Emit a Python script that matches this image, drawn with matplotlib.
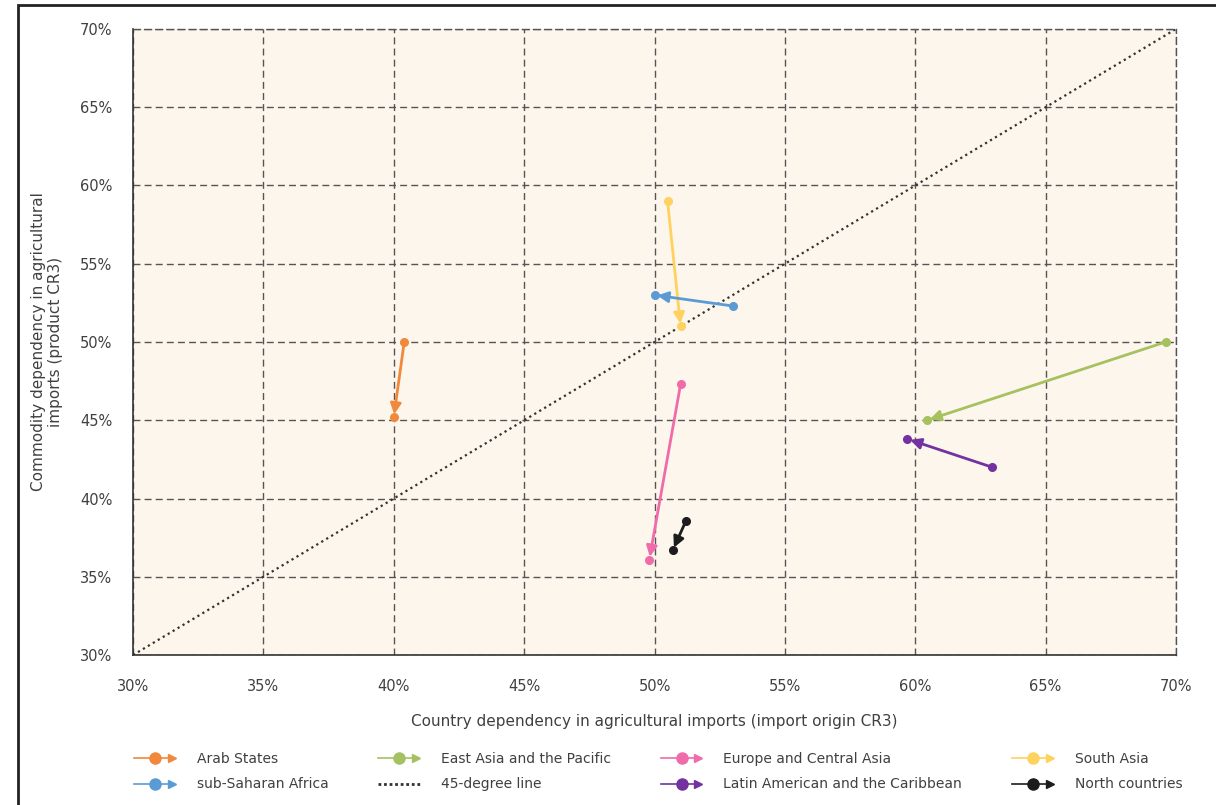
import matplotlib
matplotlib.use('Agg')
import matplotlib.pyplot as plt
from matplotlib.lines import Line2D
from matplotlib.legend_handler import HandlerBase
from matplotlib.patches import Rectangle
from matplotlib.ticker import PercentFormatter

# region, start (x, y), end (x, y) in %
regions = ['Arab States', 'East Asia and the Pacific', 'Europe and Central Asia',
           'South Asia', 'sub-Saharan Africa', 'Latin American and the Caribbean',
           'North countries']
x_start = [40.4, 69.6, 51.0, 50.5, 53.0, 62.95, 51.2]
y_start = [50.0, 50.0, 47.3, 59.0, 52.3, 42.0, 38.55]
x_end = [40.0, 60.45, 49.8, 51.0, 50.0, 59.7, 50.7]
y_end = [45.2, 45.0, 36.1, 51.0, 53.0, 43.8, 36.7]
colors = ['#F0893B', '#A6C160', '#F06BAA', '#FFD25F', '#5B9BD5', '#7332A0', '#1C1C1C']

ticks = [30, 35, 40, 45, 50, 55, 60, 65, 70]


class ArrowHandler(HandlerBase):
    def create_artists(self, legend, orig, xd, yd, w, h, fontsize, trans):
        c = orig.get_color()
        y = h / 2 - yd
        x0 = -xd
        line = Line2D([x0, x0 + w - 4], [y, y], color=c, lw=1.2)
        dot = Line2D([x0 + w * 0.5], [y], marker='o', ms=8, color=c, ls='none')
        head = Line2D([x0 + w - 3], [y], marker='>', ms=6, color=c, ls='none')
        for a in (line, dot, head):
            a.set_transform(trans)
        return [line, dot, head]


fig = plt.figure(figsize=(12.16, 8.05), dpi=100)
ax = fig.add_axes([0.1094, 0.1863, 0.8577, 0.7777])
ax.set_facecolor('#FDF6EC')

ax.plot(ticks[::len(ticks) - 1], ticks[::len(ticks) - 1], color='#333333',
        ls=(0, (1, 1.6)), lw=1.6, zorder=2)

for i, r in enumerate(regions):
    c = colors[i]
    ax.annotate('', xy=(x_end[i], y_end[i]), xytext=(x_start[i], y_start[i]),
                arrowprops=dict(arrowstyle='-|>', color=c, lw=2,
                                mutation_scale=16, shrinkA=0, shrinkB=2),
                zorder=4)
    ax.plot([x_start[i], x_end[i]], [y_start[i], y_end[i]], 'o', color=c,
            ms=5.5, ls='none', zorder=5)

ax.set_xlim(30, 70)
ax.set_ylim(30, 70)
ax.set_xticks(ticks)
ax.set_yticks(ticks)
ax.xaxis.set_major_formatter(PercentFormatter(decimals=0))
ax.yaxis.set_major_formatter(PercentFormatter(decimals=0))
ax.tick_params(length=0, labelsize=10.5, labelcolor='#404040')
ax.tick_params(axis='x', pad=17.5)
ax.tick_params(axis='y', pad=15)
ax.grid(True, color='#555555', ls=(0, (5, 3)), lw=1)
ax.set_axisbelow(True)
for s in ('top', 'right'):
    ax.spines[s].set_color('#555555')
    ax.spines[s].set_linestyle((0, (5, 3)))
    ax.spines[s].set_linewidth(1)
for s in ('left', 'bottom'):
    ax.spines[s].set_color('#333333')
    ax.spines[s].set_linewidth(1.2)

ax.set_xlabel('Country dependency in agricultural imports (import origin CR3)',
              fontsize=11, color='#404040', labelpad=14)
ax.set_ylabel('Commodity dependency in agricultural\nimports (product CR3)',
              fontsize=11, color='#404040', labelpad=12)

# legend (column-major order so rows read as in the original)
h = {r: Line2D([], [], color=colors[i]) for i, r in enumerate(regions)}
diag = Line2D([], [], color='#333333', ls=(0, (1, 1)), lw=2)
order = [('Arab States', h['Arab States']),
         ('sub-Saharan Africa', h['sub-Saharan Africa']),
         ('East Asia and the Pacific', h['East Asia and the Pacific']),
         ('45-degree line', diag),
         ('Europe and Central Asia', h['Europe and Central Asia']),
         ('Latin American and the Caribbean', h['Latin American and the Caribbean']),
         ('South Asia', h['South Asia']),
         ('North countries', h['North countries'])]
hm = {h[r]: ArrowHandler() for r in regions}
fig.legend([o[1] for o in order], [o[0] for o in order], handler_map=hm,
           ncol=4, loc='upper left', bbox_to_anchor=(0.1, 0.081),
           frameon=False, fontsize=10, labelcolor='#404040',
           handlelength=3.0, handletextpad=1.5, columnspacing=3.6,
           labelspacing=0.8)

fig.patches.append(Rectangle((18 / 1216, -0.05), 1.1, 1 - 5 / 805 + 0.05,
                             transform=fig.transFigure, fill=False,
                             ec='#222222', lw=2))

fig.savefig('out.png', dpi=100)
